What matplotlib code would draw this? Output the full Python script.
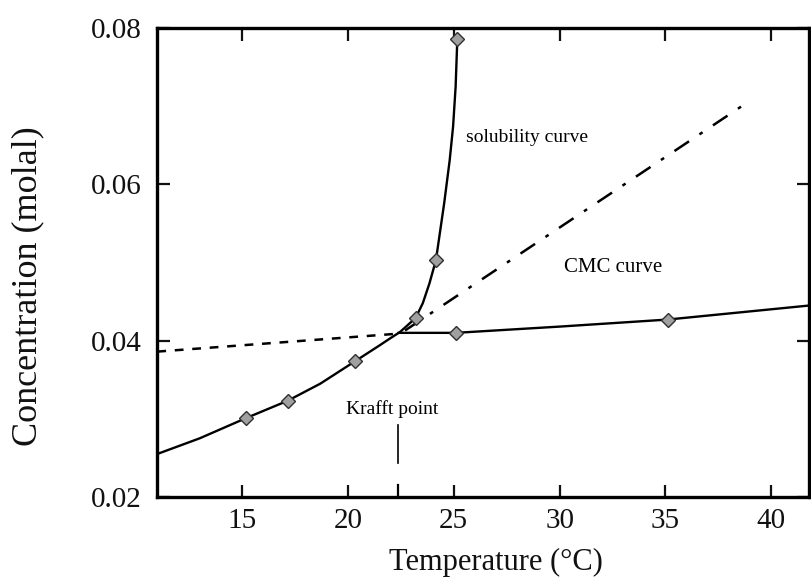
import matplotlib
matplotlib.use("Agg")
import matplotlib.pyplot as plt

plt.rcParams['font.family'] = ['Liberation Serif', 'DejaVu Serif']

# Solubility curve (solid)
sol_x = [11.0, 13.0, 15.2, 17.15, 18.7, 20.36, 21.5, 22.0, 22.46, 23.2, 23.54,
         23.85, 24.16, 24.32, 24.55, 24.81, 24.97, 25.09, 25.17]
sol_y = [0.0255, 0.0275, 0.0301, 0.0323, 0.0345, 0.0374, 0.0394, 0.0403, 0.0411,
         0.0429, 0.0448, 0.0473, 0.0503, 0.0533, 0.0576, 0.0631, 0.0674, 0.0725, 0.0786]
# Solubility markers
solm_x = [15.2, 17.15, 20.36, 23.2, 24.16, 25.17]
solm_y = [0.0301, 0.0323, 0.0374, 0.0429, 0.0503, 0.0786]

# CMC curve (solid)
cmc_x = [22.4, 25.1, 30.0, 35.1, 41.8]
cmc_y = [0.0410, 0.0410, 0.0418, 0.0427, 0.0445]
cmcm_x = [25.1, 35.1]
cmcm_y = [0.0410, 0.0427]

# Dashed extension (left)
dash_x = [11.0, 22.4]
dash_y = [0.0386, 0.0409]

# Dash-dot extension
dd_x = [22.7, 38.6]
dd_y = [0.0413, 0.0700]

xticks = [15, 20, 25, 30, 35, 40]
yticks = [0.02, 0.04, 0.06, 0.08]

fig = plt.figure(figsize=(8.11, 5.86), dpi=100)
ax = fig.add_axes([0.194, 0.152, 0.804, 0.800])

ax.plot(sol_x, sol_y, color='black', lw=1.7)
ax.plot(cmc_x, cmc_y, color='black', lw=1.7)
ax.plot(dash_x, dash_y, color='black', lw=1.8, linestyle=(0, (3.5, 3.5)))
ax.plot(dd_x, dd_y, color='black', lw=1.8, linestyle=(0, (7, 5, 1.5, 5)))
ax.plot(solm_x, solm_y, linestyle='none', marker='D', markersize=7,
        markerfacecolor='#a0a0a0', markeredgecolor='#303030', markeredgewidth=1.0)
ax.plot(cmcm_x, cmcm_y, linestyle='none', marker='D', markersize=7,
        markerfacecolor='#a0a0a0', markeredgecolor='#303030', markeredgewidth=1.0)

ax.set_xlim(11, 41.8)
ax.set_ylim(0.02, 0.08)
ax.set_xticks(xticks)
ax.set_yticks(yticks)
ax.set_xticklabels([str(t) for t in xticks])
ax.set_yticklabels(['%.2f' % t for t in yticks])
ax.tick_params(direction='in', top=True, right=True, length=9, width=1.6,
               labelsize=21, colors='#111111')
ax.tick_params(axis='x', pad=8)
ax.tick_params(axis='y', pad=11)
for s in ax.spines.values():
    s.set_linewidth(2.4)

# Krafft point tick on bottom axis
ax.plot([22.35, 22.35], [0.02, 0.0215], color='black', lw=1.6)
# Krafft point marker line
ax.plot([22.35, 22.35], [0.0243, 0.0292], color='black', lw=1.2)

ax.text(25.6, 0.0660, 'solubility curve', fontsize=14, va='center', ha='left')
ax.text(30.2, 0.0493, 'CMC curve', fontsize=15, va='center', ha='left')
ax.text(22.1, 0.0312, 'Krafft point', fontsize=14, va='center', ha='center')

ax.set_xlabel('Temperature (°C)', fontsize=22, color='#111111')
ax.set_ylabel('Concentration (molal)', fontsize=26, color='#111111')
ax.xaxis.set_label_coords(0.52, -0.108)
ax.yaxis.set_label_coords(-0.174, 0.45)

fig.savefig('out.png', dpi=100)
